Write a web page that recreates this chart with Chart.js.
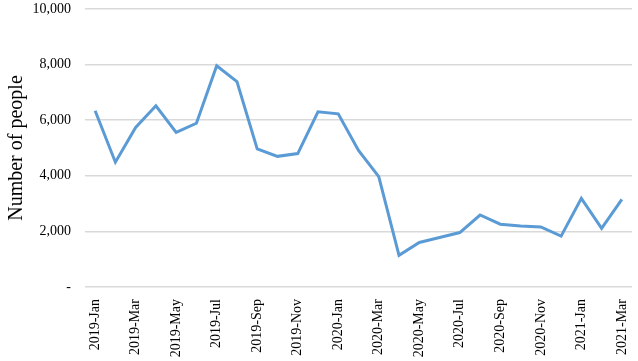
<!DOCTYPE html>
<html>
<head>
<meta charset="utf-8">
<script src="https://cdn.jsdelivr.net/npm/chart.js@4/dist/chart.umd.min.js"></script>
<style>
html,body{margin:0;padding:0;background:#fff;}
#wrap{width:638px;height:361px;position:relative;}
</style>
</head>
<body>
<div id="wrap"><canvas id="c" width="638" height="361"></canvas></div>
<script>
const categories = [
  "2019-Jan","2019-Feb","2019-Mar","2019-Apr","2019-May","2019-Jun","2019-Jul","2019-Aug","2019-Sep","2019-Oct","2019-Nov","2019-Dec",
  "2020-Jan","2020-Feb","2020-Mar","2020-Apr","2020-May","2020-Jun","2020-Jul","2020-Aug","2020-Sep","2020-Oct","2020-Nov","2020-Dec",
  "2021-Jan","2021-Feb","2021-Mar"
];
const people = [
  6340, 4490, 5740, 6520, 5560, 5890, 7960, 7390, 4970, 4700, 4800, 6300,
  6230, 4910, 3970, 1140, 1600, 1780, 1960, 2590, 2260, 2190, 2160, 1830,
  3190, 2110, 3150
];
const yTicks = [0, 2000, 4000, 6000, 8000, 10000];

const font = "'Liberation Serif','Times New Roman',serif";

new Chart(document.getElementById('c'), {
  type: 'line',
  data: {
    labels: categories,
    datasets: [{
      data: people,
      borderColor: '#5b9bd5',
      borderWidth: 3,
      pointRadius: 0,
      tension: 0,
      fill: false
    }]
  },
  options: {
    responsive: false,
    animation: false,
    layout: { padding: { top: 9, right: 6, left: 0, bottom: 0 } },
    plugins: { legend: { display: false }, tooltip: { enabled: false } },
    scales: {
      x: {
        offset: true,
        grid: { display: false },
        border: { display: false },
        ticks: {
          autoSkip: false,
          maxRotation: 90,
          minRotation: 90,
          color: '#000',
          font: { family: font, size: 14 },
          padding: 4,
          callback: function(v, i) { return i % 2 === 0 ? categories[i] : ''; }
        },
        afterFit: function(s) { s.height = 74; s.paddingLeft = 0; s.paddingRight = 0; }
      },
      y: {
        min: 0,
        max: 10000,
        afterBuildTicks: function(s) { s.ticks = yTicks.map(v => ({ value: v })); },
        grid: { color: '#d9d9d9', lineWidth: 1.5, drawTicks: false },
        border: { display: false },
        ticks: {
          color: '#000',
          font: { family: font, size: 14 },
          padding: 14,
          callback: function(v) { return v === 0 ? '-' : v.toLocaleString('en-US'); }
        },
        title: {
          display: true,
          text: 'Number of people',
          color: '#000',
          font: { family: font, size: 20 },
          padding: { top: 5, bottom: 0 }
        },
        afterFit: function(s) { s.width = 85; s.paddingTop = 0; s.paddingBottom = 0; }
      }
    }
  }
});
</script>
</body>
</html>
